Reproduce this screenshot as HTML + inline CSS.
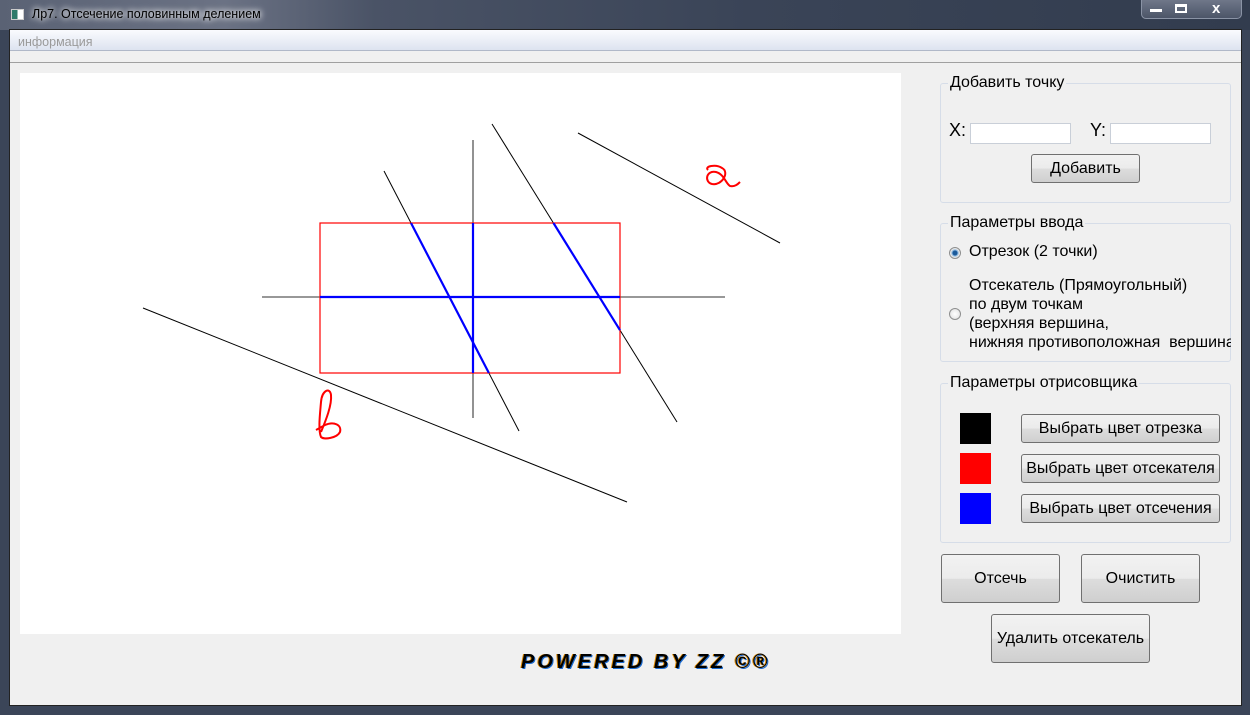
<!DOCTYPE html>
<html><head><meta charset="utf-8"><style>
*{box-sizing:border-box;margin:0;padding:0}
body{width:1250px;height:715px;overflow:hidden;position:relative;background:#3b4558;font-family:"Liberation Sans","DejaVu Sans",sans-serif}
.abs{position:absolute}
#titlebar{left:0;top:0;width:1250px;height:30px;background:linear-gradient(90deg,#5a6274 0%,#6b7284 18%,#4a5366 30%,#3a4457 60%,#323c4e 100%)}
#title{left:32px;top:7px;font-size:12.5px;color:#000;text-shadow:0 0 8px #fff,0 0 6px #fff}
#client{left:9px;top:29px;width:1233px;height:677px;background:#f0f0f0;border:1px solid #222}
#menubar{left:10px;top:30px;width:1231px;height:21px;background:linear-gradient(#fafbfe,#dde3f0);border-bottom:1px solid #b0b8c8}
#menu{left:18px;top:35px;font-size:12.5px;color:#9a9a9a}
#toolbar{left:10px;top:52px;width:1231px;height:11px;border-bottom:1px solid #a0a0a0;background:#f0f0f0}
#canvas{left:20px;top:73px;width:881px;height:561px;background:#fff}
.grp{border:1px solid #d6dde8;border-radius:3px}
.gt{font-size:16px;color:#000;background:#f0f0f0;padding:0 2px}
.lbl{font-size:16px;color:#000;white-space:nowrap}
.inp{background:#fff;border:1px solid #c9cfd8;height:21px}
.btn{border:1px solid #707070;border-radius:3px;background:linear-gradient(#f2f2f2 0%,#ebebeb 50%,#dddddd 51%,#cfcfcf 100%);font-size:16px;display:flex;align-items:center;justify-content:center;color:#000;white-space:nowrap}
.radio{width:12px;height:12px;border-radius:50%;border:1px solid #8e8f8f;background:radial-gradient(#fff,#ddd)}
.radio.on{background:radial-gradient(#1b5a9a 0 30%,#7fb0dd 40%,#e8e8e8 60%)}
#powered{left:521px;top:651px;font-size:20px;font-weight:bold;font-style:italic;letter-spacing:3px;color:#000;text-shadow:-1px 0 #e08a00,1px 1px #1a6ad0;white-space:nowrap}
</style></head><body>
<div id="titlebar" class="abs"></div>
<div class="abs" style="left:11px;top:9px;width:13px;height:11px;background:linear-gradient(90deg,#2f7a6a 50%,#fff 50%);border:1px solid #ccc"></div>
<div id="title" class="abs">Лр7. Отсечение половинным делением</div>
<div class="abs" style="left:1141px;top:0;width:101px;height:19px;border:1px solid #8a93a5;border-top:none;border-radius:0 0 5px 5px;background:linear-gradient(#6f7789,#4c5568)"></div>
<div class="abs" style="left:1150px;top:9px;width:12px;height:3px;background:#fff"></div>
<div class="abs" style="left:1175px;top:4px;width:12px;height:9px;border:2px solid #fff;border-top-width:3px"></div>
<div class="abs" style="left:1212px;top:0px;color:#fff;font-size:15px;font-weight:bold">x</div>
<div id="client" class="abs"></div>
<div id="menubar" class="abs"></div>
<div id="menu" class="abs">информация</div>
<div id="toolbar" class="abs"></div>
<div id="canvas" class="abs"></div>
<svg class="abs" style="left:0;top:0" width="1250" height="715" id="sv">
<path d="M708,170 C704,166 716,164 722,168 C730,172 722,186 712,184 C704,182 706,170 716,172 C724,174 726,184 730,186 C735,187 738,184 740,182" fill="none" stroke="#f00" stroke-width="2"/>
<path d="M321,432 C326,420 332,405 331,395 C330,387 322,390 321,402 C320,414 318,430 321,437 C324,440 337,438 340,432 C342,425 334,421 325,425 L316,430" fill="none" stroke="#f00" stroke-width="2"/>
</svg>
<div class="abs grp" style="left:940px;top:83px;width:291px;height:120px"></div>
<div class="abs gt" style="left:948px;top:74px">Добавить точку</div>
<div class="abs lbl" style="left:949px;top:120px;font-size:18px">X:</div>
<div class="abs inp" style="left:970px;top:123px;width:101px"></div>
<div class="abs lbl" style="left:1090px;top:120px;font-size:18px">Y:</div>
<div class="abs inp" style="left:1110px;top:123px;width:101px"></div>
<div class="abs btn" style="left:1031px;top:154px;width:109px;height:29px">Добавить</div>
<div class="abs grp" style="left:940px;top:223px;width:291px;height:139px"></div>
<div class="abs gt" style="left:948px;top:214px">Параметры ввода</div>
<div class="abs radio on" style="left:949px;top:247px"></div>
<div class="abs lbl" style="left:969px;top:243px">Отрезок (2 точки)</div>
<div class="abs radio" style="left:949px;top:308px"></div>
<div class="abs lbl" style="left:969px;top:276px;line-height:19px;width:262px;overflow:hidden">Отсекатель (Прямоугольный)<br>по двум точкам<br>(верхняя вершина,<br>нижняя противоположная&nbsp; вершина)</div>
<div class="abs grp" style="left:940px;top:383px;width:291px;height:160px"></div>
<div class="abs gt" style="left:948px;top:374px">Параметры отрисовщика</div>
<div class="abs" style="left:960px;top:413px;width:31px;height:31px;background:#000"></div>
<div class="abs" style="left:960px;top:453px;width:31px;height:31px;background:#f00"></div>
<div class="abs" style="left:960px;top:493px;width:31px;height:31px;background:#00f"></div>
<div class="abs btn" style="left:1021px;top:414px;width:199px;height:29px">Выбрать цвет отрезка</div>
<div class="abs btn" style="left:1021px;top:454px;width:199px;height:29px">Выбрать цвет отсекателя</div>
<div class="abs btn" style="left:1021px;top:494px;width:199px;height:29px">Выбрать цвет отсечения</div>
<div class="abs btn" style="left:941px;top:554px;width:119px;height:49px">Отсечь</div>
<div class="abs btn" style="left:1081px;top:554px;width:119px;height:49px">Очистить</div>
<div class="abs btn" style="left:991px;top:614px;width:159px;height:49px">Удалить отсекатель</div>
<div id="powered" class="abs">POWERED BY ZZ ©®</div>
<script>
const segX1=[578,143,473,262,384,492];
const segY1=[133,308,140,297,171,124];
const segX2=[780,627,473,725,519,677];
const segY2=[243,502,418,297,431,422];
const clipRect=[320,223,620,373];
const NS="http://www.w3.org/2000/svg";
const sv=document.getElementById('sv');
function mk(t,a){const e=document.createElementNS(NS,t);for(const k in a)e.setAttribute(k,a[k]);sv.appendChild(e);return e;}
for(let i=0;i<segX1.length;i++){
  const axis=(segX1[i]===segX2[i]||segY1[i]===segY2[i]);
  const l=mk('line',{x1:segX1[i],y1:segY1[i],x2:segX2[i],y2:segY2[i],stroke:axis?'#777':'#000','stroke-width':axis?1.6:1});
  
  
}
const r=mk('rect',{x:clipRect[0],y:clipRect[1],width:clipRect[2]-clipRect[0],height:clipRect[3]-clipRect[1],fill:'none',stroke:'#f00','stroke-width':1.2});


function clip(x1,y1,x2,y2){let t0=0,t1=1;const dx=x2-x1,dy=y2-y1;
 const p=[-dx,dx,-dy,dy],q=[x1-clipRect[0],clipRect[2]-x1,y1-clipRect[1],clipRect[3]-y1];
 for(let i=0;i<4;i++){if(p[i]===0){if(q[i]<0)return null;}else{const t=q[i]/p[i];if(p[i]<0)t0=Math.max(t0,t);else t1=Math.min(t1,t);}}
 if(t0>t1)return null;return [x1+t0*dx,y1+t0*dy,x1+t1*dx,y1+t1*dy];}
for(let i=0;i<segX1.length;i++){
  const c=clip(segX1[i],segY1[i],segX2[i],segY2[i]);if(!c)continue;
  const l=mk('line',{x1:c[0],y1:c[1],x2:c[2],y2:c[3],stroke:'#00f','stroke-width':2.2});
  
  
}
</script>
</body></html>
